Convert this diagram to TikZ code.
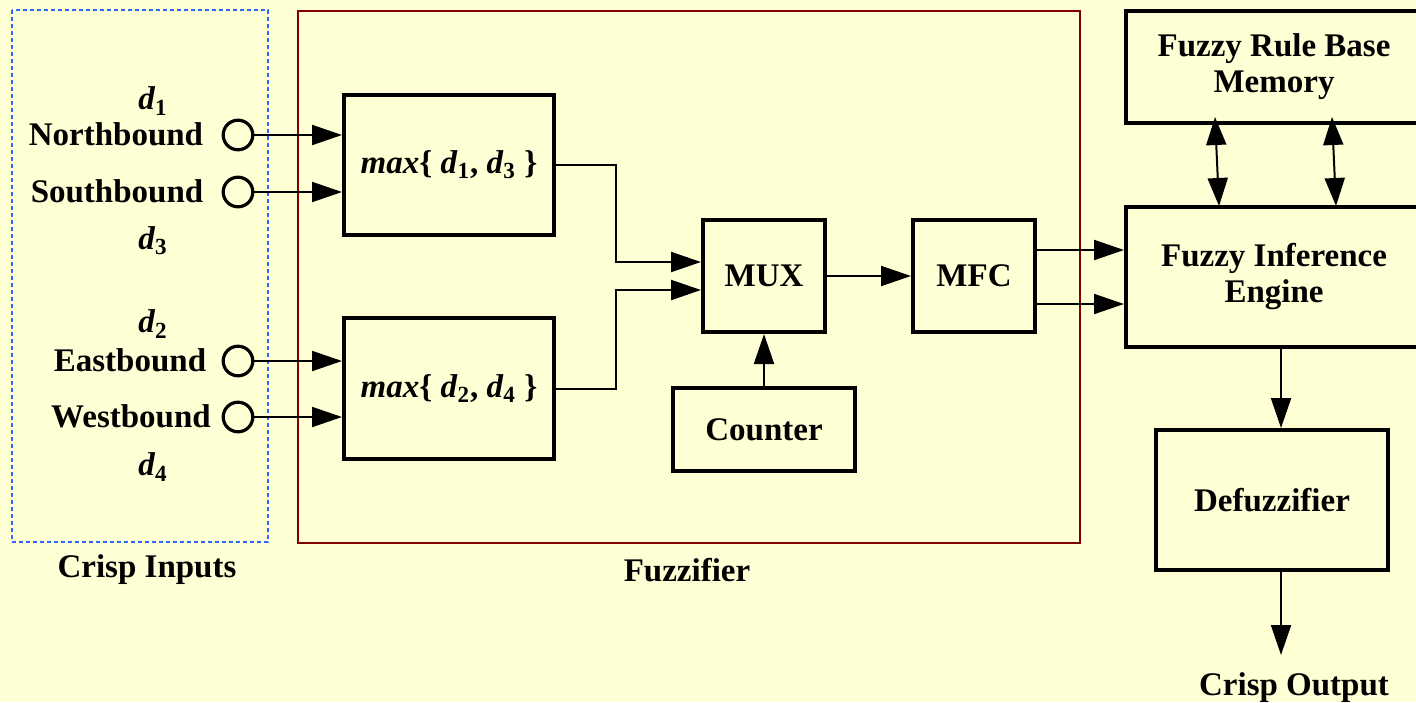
\documentclass[tikz,border=0pt]{standalone}
\usepackage{fontspec}
\setmainfont{Liberation Serif}
\usetikzlibrary{arrows.meta}
\definecolor{bg}{RGB}{255,255,214}
\definecolor{dashblue}{RGB}{50,100,255}
\definecolor{fuzred}{RGB}{128,0,0}
\begin{document}
\begin{tikzpicture}[x=0.5pt,y=-0.5pt,
  lbl/.style={font=\fontsize{16.5}{18}\selectfont\bfseries, inner sep=1pt},
  blk/.style={draw, line width=2pt, lbl, inner sep=0pt, align=center},
  arr/.style={line width=1pt, -{Triangle[length=15pt,width=10pt]}},
  dbl/.style={line width=1pt, {Triangle[length=14pt,width=10pt]}-{Triangle[length=14pt,width=10pt]}},
  port/.style={circle, draw, line width=1.6pt, minimum size=14.8pt, inner sep=0pt}]
\fill[bg] (0,0) rectangle (1416,702);
\useasboundingbox (0,0) rectangle (1416,702);

% group frames
\draw[dashblue, line width=0.75pt, dash pattern=on 2pt off 1.5pt] (12,10) rectangle (268,542);
\draw[fuzred, line width=1pt] (298,11) rectangle (1080,543);
\node[lbl] (ci) at (147,570) {Crisp Inputs};
\node[lbl] (fz) at (687,570) {Fuzzifier};

% inputs
\node[port] (pN) at (238,135) {};
\node[port] (pS) at (238,192) {};
\node[port] (pE) at (238,361) {};
\node[port] (pW) at (238,417) {};
\node[lbl] (tN) at (116,134) {Northbound};
\node[lbl] (tS) at (117,191) {Southbound};
\node[lbl] (tE) at (130,360) {Eastbound};
\node[lbl] (tW) at (131,416) {Westbound};
\node[lbl] (d1) at (153,101) {\textit{d}\textsubscript{1}};
\node[lbl] (d3) at (153,241) {\textit{d}\textsubscript{3}};
\node[lbl] (d2) at (153,324) {\textit{d}\textsubscript{2}};
\node[lbl] (d4) at (153,467) {\textit{d}\textsubscript{4}};

% fuzzifier blocks
\node[blk, minimum width=105pt, minimum height=70pt] (m1) at (449,165)
  {\raisebox{-2.5pt}{\textit{max}\{ \textit{d}\textsubscript{1}, \textit{d}\textsubscript{3} \}}};
\node[blk, minimum width=105pt, minimum height=70.5pt] (m2) at (449,388.5)
  {\raisebox{-1pt}{\textit{max}\{ \textit{d}\textsubscript{2}, \textit{d}\textsubscript{4} \}}};
\node[blk, minimum width=61pt, minimum height=56pt] (mux) at (764,276) {MUX};
\node[blk, minimum width=61pt, minimum height=56pt] (mfc) at (974,276) {MFC};
\node[blk, minimum width=91pt, minimum height=41.5pt] (cnt) at (764,429.5) {Counter};

% right side
\node[blk, minimum width=148pt, minimum height=56pt] (rb) at (1274,67) {Fuzzy Rule Base\\Memory};
\node[blk, minimum width=148pt, minimum height=70pt] (eng) at (1274,277) {Fuzzy Inference\\Engine};
\node[blk, minimum width=116pt, minimum height=70pt] (df) at (1272,500) {Defuzzifier};
\node[lbl] (co) at (1294,688) {Crisp Output};

% connectors
\draw[arr] (pN.east) -- (pN.east -| m1.west);
\draw[arr] (pS.east) -- (pS.east -| m1.west);
\draw[arr] (pE.east) -- (pE.east -| m2.west);
\draw[arr] (pW.east) -- (pW.east -| m2.west);
\draw[arr] (m1.east) -- ++(30pt,0) |- ([yshift=7pt]mux.west);
\draw[arr] (m2.east) -- ++(30pt,0) |- ([yshift=-7pt]mux.west);
\draw[arr] (mux.east) -- (mfc.west);
\draw[arr] (cnt.north) -- (mux.south);
\draw[arr] ([yshift=13pt]mfc.east) -- ([yshift=13pt]mfc.east -| eng.west);
\draw[arr] ([yshift=-14pt]mfc.east) -- ([yshift=-14pt]mfc.east -| eng.west);

\coordinate (a1) at (1215,117);
\coordinate (b1) at (1219,206);
\coordinate (a2) at (1332,117);
\coordinate (b2) at (1336,206);
\draw[dbl] (a1) -- (b1);
\draw[dbl] (a2) -- (b2);

\coordinate (ax) at (1281,0);
\coordinate (outp) at (1281,655);
\draw[arr] (eng.south -| ax) -- (df.north -| ax);
\draw[arr] (df.south -| ax) -- (outp);
\end{tikzpicture}
\end{document}
